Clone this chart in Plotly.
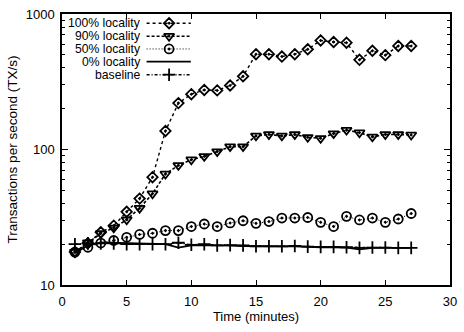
import plotly.graph_objects as go

minutes = list(range(1, 28))

loc100 = [17.5, 20.3, 24.5, 27.4, 34.7, 43.4, 62.5, 137, 220, 256, 275, 273, 297, 347,
          505, 505, 485, 505, 549, 638, 621, 614, 459, 535, 497, 581, 581]
loc90 = [17.5, 20.5, 24.0, 26.4, 30.3, 36.9, 47.2, 66, 76.4, 84.1, 89, 96.5, 105, 105,
         126, 129, 126, 129, 123, 121, 131, 139, 133, 124, 129, 129, 128]
loc50 = [17.5, 19.0, 20.4, 21.3, 22.5, 23.6, 24.1, 25.2, 25.2, 27.0, 28.2, 27.0, 28.7, 29.8,
         28.5, 29.4, 31.2, 31.2, 31.5, 29.0, 27.0, 32.1, 30.2, 31.2, 29.0, 30.7, 33.7]
loc0 = [17.3, 19.5, 20.6, 20.5, 20.4, 20.3, 20.1, 20.0, 18.9, 19.6, 19.7, 19.5, 19.5, 19.4,
        19.3, 19.3, 19.3, 19.3, 19.1, 19.0, 19.0, 18.9, 18.3, 18.8, 18.8, 18.7, 18.8]
baseline = [20.0, 20.3, 20.3, 20.3, 20.0, 20.0, 20.0, 20.0, 20.5, 19.8, 20.0, 19.6, 19.7, 19.6,
            19.3, 19.3, 19.3, 19.4, 19.2, 19.1, 19.1, 19.0, 18.8, 18.9, 18.9, 18.8, 18.8]

series_names = ["100% locality", "90% locality", "50% locality", "0% locality", "baseline"]
series_vals = [loc100, loc90, loc50, loc0, baseline]
dashes = ["dot", "3px,2px", "1px,2px", "solid", "3px,2px,1px,2px"]
symbols = ["diamond-open-dot", "triangle-down-open-dot", "circle-open-dot", None, "cross-thin-open"]
widths = [1.4, 1.6, 1.0, 1.8, 1.4]
msizes = [8, 9, 9, 0, 9]

x_ticks = [0, 5, 10, 15, 20, 25, 30]
y_ticks = [10, 100, 1000]
y_minor = [v * m for m in (10, 100) for v in range(2, 10)]

FONT = "Liberation Sans, Arial, sans-serif"
fig = go.Figure()

for name, vals, dash, sym, w, ms in zip(series_names, series_vals, dashes, symbols, widths, msizes):
    mode = "lines" if sym is None else "lines+markers"
    fig.add_trace(go.Scatter(
        x=minutes, y=vals, mode=mode, name=name, showlegend=False,
        line=dict(color="black", width=w, dash=dash),
        marker=dict(symbol=sym or "circle", size=ms, color="black",
                    line=dict(color="black", width=1.8)),
    ))

# hand-built gnuplot-style key (text left, sample right)
row_y = [0.966, 0.918, 0.871, 0.824, 0.776]
text_x = 0.205
line_x0, line_x1 = 0.218, 0.332
mark_x = 0.276
for name, dash, sym, w, ms, ry in zip(series_names, dashes, symbols, widths, msizes, row_y):
    fig.add_annotation(x=text_x, y=ry, xref="paper", yref="paper", text=name,
                       showarrow=False, xanchor="right", yanchor="middle",
                       borderpad=0,
                       font=dict(family=FONT, size=12.2, color="black"))
    fig.add_shape(type="line", xref="paper", yref="paper", x0=line_x0, x1=line_x1,
                  y0=ry, y1=ry, line=dict(color="black", width=w, dash=dash))
    if sym is not None:
        fig.add_trace(go.Scatter(
            x=[mark_x], y=[ry], xaxis="x2", yaxis="y2", mode="markers", showlegend=False,
            hoverinfo="skip",
            marker=dict(symbol=sym, size=ms, color="black", line=dict(color="black", width=1.8)),
        ))

axis_common = dict(showline=True, linecolor="black", linewidth=1.5, mirror="ticks",
                   ticks="inside", tickcolor="black", showgrid=False, zeroline=False,
                   tickfont=dict(family=FONT, size=13, color="black"))

fig.update_layout(
    width=464, height=332,
    margin=dict(l=62, r=7, t=10, b=47),
    paper_bgcolor="white", plot_bgcolor="white",
    showlegend=False,
    font=dict(family=FONT, size=13, color="black"),
    xaxis=dict(range=[0, 30], tickvals=x_ticks, ticklen=5, tickwidth=1,
               ticklabelstandoff=4,
               title=dict(text="Time (minutes)", standoff=3,
                          font=dict(family=FONT, size=13)),
               **axis_common),
    yaxis=dict(type="log", range=[1, 3], tickvals=y_ticks, ticklen=6, tickwidth=1,
               ticklabelstandoff=3,
               minor=dict(tickvals=y_minor, ticks="inside", ticklen=3, tickcolor="black",
                          tickwidth=1, showgrid=False),
               title=dict(text="Transactions per second (TX/s)", standoff=5,
                          font=dict(family=FONT, size=13.5)),
               **axis_common),
    xaxis2=dict(range=[0, 1], overlaying="x", visible=False, fixedrange=True),
    yaxis2=dict(range=[0, 1], overlaying="y", visible=False, fixedrange=True),
)

fig.write_html("out.html", config={"displayModeBar": False},
               post_script="document.body.style.margin='0';")
